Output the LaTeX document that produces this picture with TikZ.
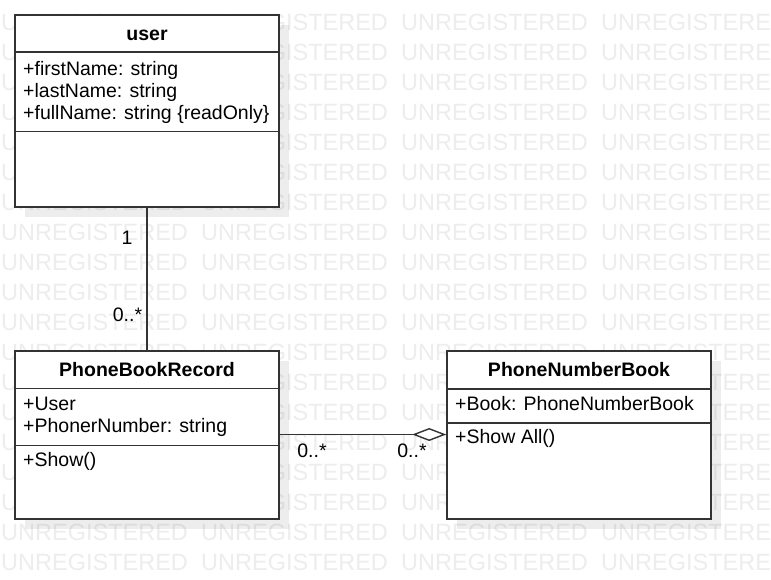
\documentclass[tikz,border=0pt]{standalone}
\usepackage{fontspec}
\setmainfont{Liberation Sans}
\usetikzlibrary{arrows.meta}
\definecolor{wm}{HTML}{EDEDED}
\definecolor{ln}{HTML}{333333}
\tikzset{
 classbox/.style={draw=ln, line width=1.6pt, fill=white, rectangle, inner sep=0pt, minimum width=264pt},
 sepline/.style={draw=ln, line width=1.2pt},
 shadowbox/.style={fill=black, fill opacity=0.07},
 ctitle/.style={anchor=base, inner sep=0pt, font=\fontsize{19.5}{23}\selectfont\bfseries},
 member/.style={anchor=base west, inner sep=0pt, font=\fontsize{19.5}{23}\selectfont},
 mult/.style={anchor=base, inner sep=0pt, font=\fontsize{19.5}{23}\selectfont},
 wmark/.style={anchor=base west, inner sep=0pt, text=wm, font=\fontsize{23.5}{28}\selectfont},
 assoc/.style={draw=ln, line width=1.4pt},
}
\begin{document}
\begin{tikzpicture}[x=1pt,y=-1pt]
\useasboundingbox (0,0) rectangle (771,579);
\fill[white] (0,0) rectangle (771,579);
% watermark
\begin{scope}
\clip (0,0) rectangle (771,579);
\foreach \r in {0,...,18}{
  \foreach \c in {0,...,3}{
    \node[wmark] (wm-\r-\c) at (1+200*\c, 30+30*\r) {UNREGISTERED};
  }
}
\end{scope}
% shadows
\fill[shadowbox] (25,25) rectangle (289,217);
\fill[shadowbox] (25,361) rectangle (289,529);
\fill[shadowbox] (457,361) rectangle (721,529);
% class boxes
\node[classbox, minimum height=192pt] (user) at (147,111) {};
\node[classbox, minimum height=168pt] (rec) at (147,435) {};
\node[classbox, minimum height=168pt] (book) at (579,435) {};
% compartments
\draw[sepline] (15,52) -- (279,52);
\draw[sepline] (15,131.5) -- (279,131.5);
\draw[sepline] (15,388.5) -- (279,388.5);
\draw[sepline] (15,445.5) -- (279,445.5);
\draw[sepline] (447,389) -- (711,389);
\draw[sepline] (447,423) -- (711,423);
% texts
\node[ctitle] (user-t) at (147,40) {user};
\node[member] (user-a1) at (23,75) {+firstName: string};
\node[member] (user-a2) at (23,97) {+lastName: string};
\node[member] (user-a3) at (23,119) {+fullName: string \{readOnly\}};
\node[ctitle] (rec-t) at (147,376) {PhoneBookRecord};
\node[member] (rec-a1) at (23,410) {+User};
\node[member] (rec-a2) at (23,432) {+PhonerNumber: string};
\node[member] (rec-o1) at (23,466) {+Show()};
\node[ctitle] (book-t) at (579,376) {PhoneNumberBook};
\node[member] (book-a1) at (455,410) {+Book: PhoneNumberBook};
\node[member] (book-o1) at (455,443) {+Show All()};
% connectors
\draw[assoc] (user.south) -- (rec.north);
\coordinate (hy) at (0,434.5);
\draw[assoc, -{Diamond[open, fill=white, length=34pt, width=13pt]}] (rec.east |- hy) -- (book.west |- hy);
% multiplicities
\node[mult] (m1) at (127,244) {1};
\node[mult] (m2) at (127.5,321) {0..*};
\node[mult] (m3) at (312,457) {0..*};
\node[mult] (m4) at (412,457) {0..*};
\end{tikzpicture}
\end{document}
